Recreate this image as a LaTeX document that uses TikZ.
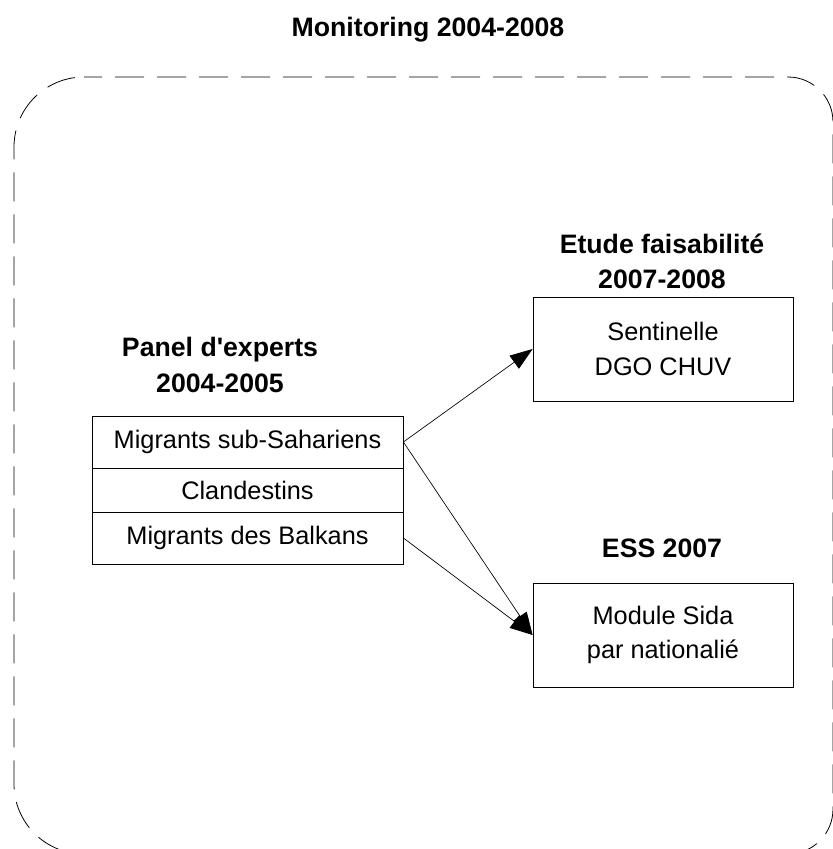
\documentclass[tikz,border=0pt]{standalone}
\usepackage{fontspec}
\setmainfont{Liberation Sans}
\usetikzlibrary{arrows.meta}

\newcommand\txt{\fontsize{19}{26}\selectfont}
\newcommand\ttl{\fontsize{20}{26.5}\selectfont\bfseries}

\begin{document}
\begin{tikzpicture}[x=0.75pt, y=-0.75pt,
    cell/.style={draw, line width=0.6pt, minimum width=233.25pt, inner sep=0, font=\txt},
    stage/.style={draw, line width=0.6pt, minimum width=195pt, minimum height=78pt, inner sep=0, align=center, font=\txt},
    heading/.style={align=center, inner sep=0, font=\ttl},
    link/.style={-{Triangle[length=17pt, width=12pt]}, line width=0.5pt}]
    \useasboundingbox (0,0) rectangle (832,849);

    % title on top
    \node[heading] (title) at (428,30) {Monitoring 2004-2008};

    % dashed frame, right side runs off the page
    \draw[line width=0.6pt, dash pattern=on 21.75pt off 9.75pt, dash phase=8.25pt]
        (84,77) -- (788,77) arc[start angle=90, end angle=0, radius=33.75pt]
        -- (833,809) arc[start angle=0, end angle=-90, radius=33.75pt]
        -- (84,854) arc[start angle=-90, end angle=-180, radius=52.5pt]
        -- (14,147) arc[start angle=180, end angle=90, radius=52.5pt] -- cycle;

    % panel d'experts
    \node[heading] (panelhead) at (220,365) {Panel d\textquotesingle experts\\2004-2005};
    \node[cell, minimum height=39pt] (subsah) at (247.5,442) {Migrants sub-Sahariens};
    \node[cell, minimum height=33pt] (clandes) at (247.5,490) {Clandestins};
    \node[cell, minimum height=39pt] (balkans) at (247.5,538) {Migrants des Balkans};

    % etude faisabilite
    \node[heading] (etudehead) at (662,261.5) {Etude faisabilité\\2007-2008};
    \node[stage] (sentinel) at (663,349) {Sentinelle\\DGO CHUV};

    % ess
    \node[heading] (esshead) at (662,548) {ESS 2007};
    \node[stage] (module) at (663,635) {Module Sida\\par nationalié};

    % panel to studies
    \draw[link] (subsah.east) -- (sentinel.west);
    \draw[link] (subsah.east) -- (module.west);
    \draw[link] (balkans.east) -- (module.west);
\end{tikzpicture}
\end{document}
